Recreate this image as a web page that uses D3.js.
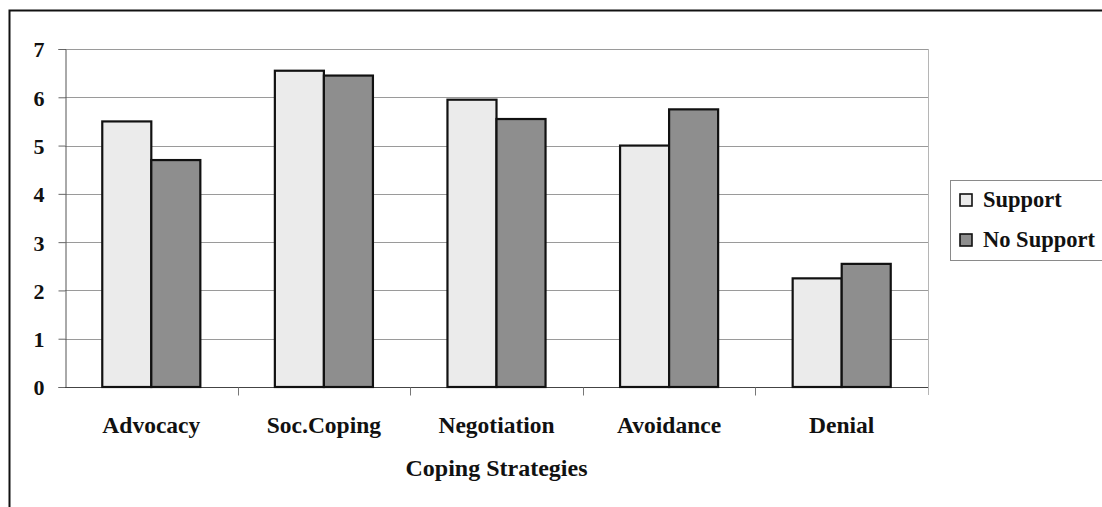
<!DOCTYPE html>
<html>
<head>
<meta charset="utf-8">
<script src="https://cdn.jsdelivr.net/npm/d3@7"></script>
<style>
  html, body { margin: 0; padding: 0; background: #fff; }
  svg { display: block; }
  text { font-family: "Liberation Serif", "Times New Roman", serif; font-weight: bold; fill: #111; }
</style>
</head>
<body>
<svg id="chart" width="1102" height="507"></svg>
<script>
// Mean coping-strategy scores by support group
const categories = ["Advocacy", "Soc.Coping", "Negotiation", "Avoidance", "Denial"];
const seriesNames = ["Support", "No Support"];
const supportValues = [5.5, 6.55, 5.95, 5.0, 2.25];
const noSupportValues = [4.7, 6.45, 5.55, 5.75, 2.55];
const yTicks = [0, 1, 2, 3, 4, 5, 6, 7];
const xTitle = "Coping Strategies";

const seriesFill = { "Support": "#ebebeb", "No Support": "#8e8e8e" };
const valuesBySeries = { "Support": supportValues, "No Support": noSupportValues };

const svg = d3.select("#chart");
const plot = { left: 65, right: 928, top: 49, bottom: 387 };

// Outer frame of the chart area (runs off the right and bottom edges)
svg.append("rect")
  .attr("x", 9.5).attr("y", 10.5)
  .attr("width", 1200).attr("height", 600)
  .attr("fill", "none").attr("stroke", "#111").attr("stroke-width", 2);

const x0 = d3.scaleBand().domain(categories).range([plot.left, plot.right]).padding(0);
const x1 = d3.scaleBand().domain(seriesNames).range([0, x0.bandwidth()])
  .paddingInner(0).paddingOuter(0.76);
const y = d3.scaleLinear().domain([0, 7]).range([plot.bottom, plot.top]);

// Horizontal gridlines
svg.append("g")
  .selectAll("line")
  .data(yTicks.filter(t => t > 0))
  .join("line")
  .attr("x1", plot.left).attr("x2", plot.right)
  .attr("y1", d => Math.round(y(d)) + 0.5).attr("y2", d => Math.round(y(d)) + 0.5)
  .attr("stroke", "#9a9a9a").attr("stroke-width", 1);

// Right edge of the plot area
svg.append("line")
  .attr("x1", plot.right + 0.5).attr("x2", plot.right + 0.5)
  .attr("y1", plot.top).attr("y2", plot.bottom + 8)
  .attr("stroke", "#b5b5b5").attr("stroke-width", 1);

// Y axis
const yAxis = svg.append("g")
  .attr("transform", `translate(${plot.left + 0.5},0)`)
  .call(d3.axisLeft(y).tickValues(yTicks).tickFormat(d3.format("d")).tickSize(7).tickPadding(14));
yAxis.select(".domain").attr("stroke", "#555");
yAxis.selectAll(".tick line").attr("stroke", "#666");
yAxis.selectAll(".tick text")
  .attr("font-size", 22).attr("font-family", "Liberation Serif, serif")
  .attr("font-weight", "bold").attr("fill", "#111").attr("dy", "0.36em");

// X axis with ticks between categories
const xAxis = svg.append("g")
  .attr("transform", `translate(0,${plot.bottom + 0.5})`);
xAxis.append("line")
  .attr("x1", plot.left).attr("x2", plot.right)
  .attr("stroke", "#444").attr("stroke-width", 1.2);
xAxis.selectAll("line.tick")
  .data(categories.slice(1))
  .join("line")
  .attr("class", "tick")
  .attr("x1", d => Math.round(x0(d)) + 0.5).attr("x2", d => Math.round(x0(d)) + 0.5)
  .attr("y1", 0).attr("y2", 8)
  .attr("stroke", "#777");
xAxis.selectAll("text.cat")
  .data(categories)
  .join("text")
  .attr("class", "cat")
  .attr("x", d => x0(d) + x0.bandwidth() / 2)
  .attr("y", 45)
  .attr("text-anchor", "middle")
  .attr("font-size", 23.5)
  .text(d => d);

// Bars
const groups = svg.append("g")
  .selectAll("g")
  .data(categories)
  .join("g")
  .attr("transform", d => `translate(${x0(d)},0)`);

groups.selectAll("rect")
  .data((c, i) => seriesNames.map(s => ({ series: s, value: valuesBySeries[s][i] })))
  .join("rect")
  .attr("x", d => x1(d.series))
  .attr("y", d => y(d.value))
  .attr("width", x1.bandwidth())
  .attr("height", d => y(0) - y(d.value))
  .attr("fill", d => seriesFill[d.series])
  .attr("stroke", "#111")
  .attr("stroke-width", 2.2);

// Axis title
svg.append("text")
  .attr("x", (plot.left + plot.right) / 2)
  .attr("y", 476)
  .attr("text-anchor", "middle")
  .attr("font-size", 24)
  .text(xTitle);

// Legend
const legend = svg.append("g");
legend.append("rect")
  .attr("x", 950.5).attr("y", 180.5)
  .attr("width", 160).attr("height", 80)
  .attr("fill", "#fff").attr("stroke", "#8a8a8a").attr("stroke-width", 1);
const items = legend.selectAll("g.item")
  .data(seriesNames)
  .join("g")
  .attr("class", "item")
  .attr("transform", (d, i) => `translate(960,${194 + i * 40})`);
items.append("rect")
  .attr("x", 0).attr("y", 0).attr("width", 12).attr("height", 12)
  .attr("fill", d => seriesFill[d]).attr("stroke", "#111").attr("stroke-width", 1.6);
items.append("text")
  .attr("x", 23).attr("y", 13)
  .attr("font-size", 22.5)
  .text(d => d);
</script>
</body>
</html>
